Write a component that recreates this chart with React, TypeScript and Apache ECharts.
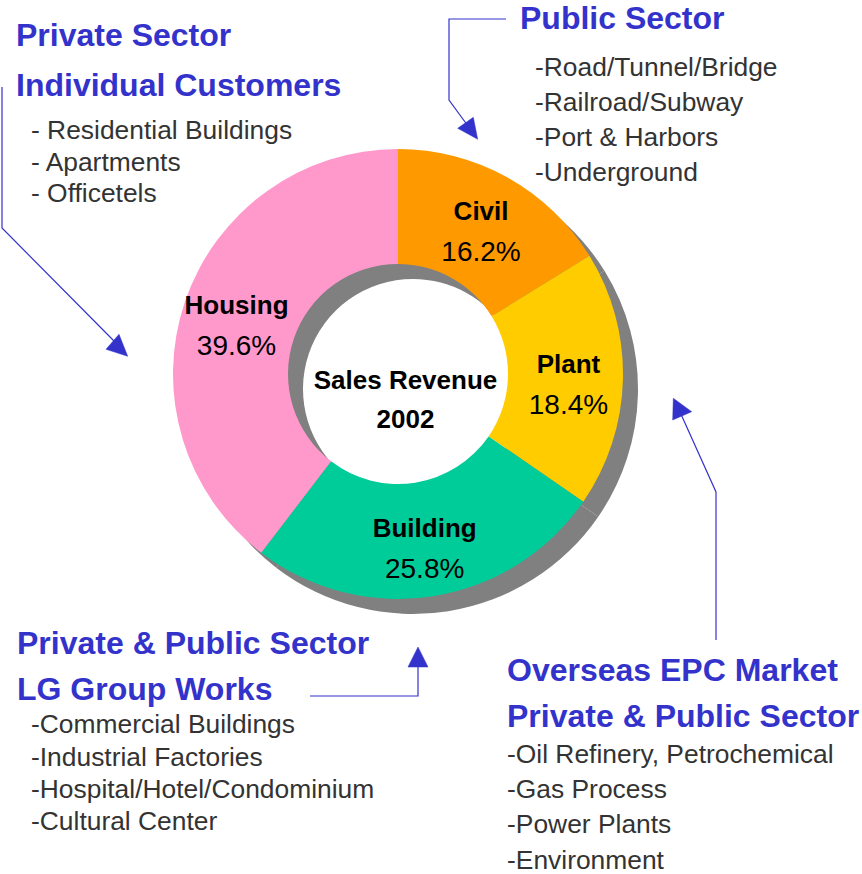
import React, { useEffect, useRef } from "react";
import * as echarts from "echarts";

// ---- data ----
const categories = ["Civil", "Plant", "Building", "Housing"];
const shares = [16.2, 18.4, 25.8, 39.6];
const segmentColors = ["#FF9900", "#FFCC00", "#00CC99", "#FF99CC"];
const centerLines = ["Sales Revenue", "2002"];

const topLeftTitles = ["Private Sector", "Individual Customers"];
const topLeftItems = ["- Residential Buildings", "- Apartments", "- Officetels"];
const topRightTitles = ["Public Sector"];
const topRightItems = ["-Road/Tunnel/Bridge", "-Railroad/Subway", "-Port & Harbors", "-Underground"];
const bottomLeftTitles = ["Private & Public Sector", "LG Group Works"];
const bottomLeftItems = ["-Commercial Buildings", "-Industrial Factories", "-Hospital/Hotel/Condominium", "-Cultural Center"];
const bottomRightTitles = ["Overseas EPC Market", "Private & Public Sector"];
const bottomRightItems = ["-Oil Refinery, Petrochemical", "-Gas Process", "-Power Plants", "-Environment"];

const FONT = '"Liberation Sans", Arial, Helvetica, sans-serif';
const BLUE = "#3333CC";
const GREY_TEXT = "#333333";

function txt(text: string, x: number, y: number, size: number, bold: boolean, fill: string, align = "left") {
  return {
    type: "text",
    x,
    y,
    silent: true,
    style: {
      text,
      fill,
      fontSize: size,
      fontWeight: bold ? "bold" : "normal",
      fontFamily: FONT,
      align,
      verticalAlign: "middle",
      textAlign: align,
      textVerticalAlign: "middle",
    },
  };
}

function block(titles: string[], items: string[], tx: number, ty: number[], ix: number, iy: number[]) {
  const out: any[] = [];
  titles.forEach((t, i) => out.push(txt(t, tx, ty[i], 32, true, BLUE)));
  items.forEach((t, i) => out.push(txt(t, ix, iy[i], 26.4, false, GREY_TEXT)));
  return out;
}

function arrow(points: number[][], head: number[][]) {
  return [
    { type: "polyline", silent: true, shape: { points }, style: { stroke: BLUE, lineWidth: 1.2, fill: null } },
    { type: "polygon", silent: true, shape: { points: head }, style: { fill: BLUE, stroke: BLUE, lineWidth: 0.5 } },
  ];
}

export default function App() {
  const ref = useRef<HTMLDivElement>(null);
  useEffect(() => {
    if (!ref.current) return;
    const chart = echarts.init(ref.current, undefined, { renderer: "svg" });
    const pieData = categories.map((c, i) => ({ name: c, value: shares[i], itemStyle: { color: segmentColors[i] } }));
    const shadowData = categories.map((c, i) => ({ name: c, value: shares[i], itemStyle: { color: "#808080" } }));

    const graphics: any[] = [
      ...block(topLeftTitles, topLeftItems, 16, [35, 85], 31, [130, 161.5, 193]),
      ...block(topRightTitles, topRightItems, 520, [18], 535, [67, 101.5, 137, 172]),
      ...block(bottomLeftTitles, bottomLeftItems, 17, [643, 688.5], 31, [724, 756.5, 789, 821]),
      ...block(bottomRightTitles, bottomRightItems, 507, [670, 716], 507, [754, 789, 824, 860]),
      ...arrow([[2, 87], [2, 228], [116, 343]], [[127.7, 356.3], [106, 349.3], [119, 334.3]]),
      ...arrow([[506, 19], [449, 19], [449, 100], [468, 126]], [[477.7, 139.3], [457.7, 128.3], [473.3, 117.3]]),
      ...arrow([[310, 696], [418, 696], [418, 666]], [[418, 647], [408, 667], [428, 667]]),
      ...arrow([[716, 640], [716, 492], [680, 412]], [[673.3, 398.3], [691.7, 411.7], [672.7, 420]]),
      {
        type: "text",
        x: 405.5,
        y: 399.5,
        silent: true,
        z: 100,
        style: {
          text: centerLines.join("\n"),
          fill: "#000",
          fontSize: 26,
          fontWeight: "bold",
          fontFamily: FONT,
          lineHeight: 39,
          align: "center",
          verticalAlign: "middle",
          textAlign: "center",
          textVerticalAlign: "middle",
        },
      },
    ];

    chart.setOption({
      animation: false,
      backgroundColor: "#ffffff",
      series: [
        {
          type: "pie",
          silent: true,
          z: 1,
          center: [413, 389],
          radius: [110, 225],
          startAngle: 90,
          clockwise: true,
          label: { show: false },
          labelLine: { show: false },
          emphasis: { disabled: true },
          itemStyle: { borderWidth: 0 },
          data: shadowData,
        },
        {
          type: "pie",
          silent: true,
          z: 2,
          center: [398, 374],
          radius: [110, 225],
          startAngle: 90,
          clockwise: true,
          emphasis: { disabled: true },
          itemStyle: { borderWidth: 0 },
          labelLine: { show: false },
          label: {
            show: true,
            position: "inside",
            offset: [0, 6],
            formatter: "{n|{b}}\n{p|{c}%}",
            rich: {
              n: { fontSize: 26, fontWeight: "bold", color: "#000", fontFamily: FONT, lineHeight: 40 },
              p: { fontSize: 28, color: "#000", fontFamily: FONT, lineHeight: 40 },
            },
          },
          data: pieData,
        },
      ],
      graphic: graphics,
    });
    return () => chart.dispose();
  }, []);
  return (
    <div
      ref={ref}
      style={{ position: "absolute", left: 0, top: 0, width: 862, height: 874, background: "#fff" }}
    />
  );
}
